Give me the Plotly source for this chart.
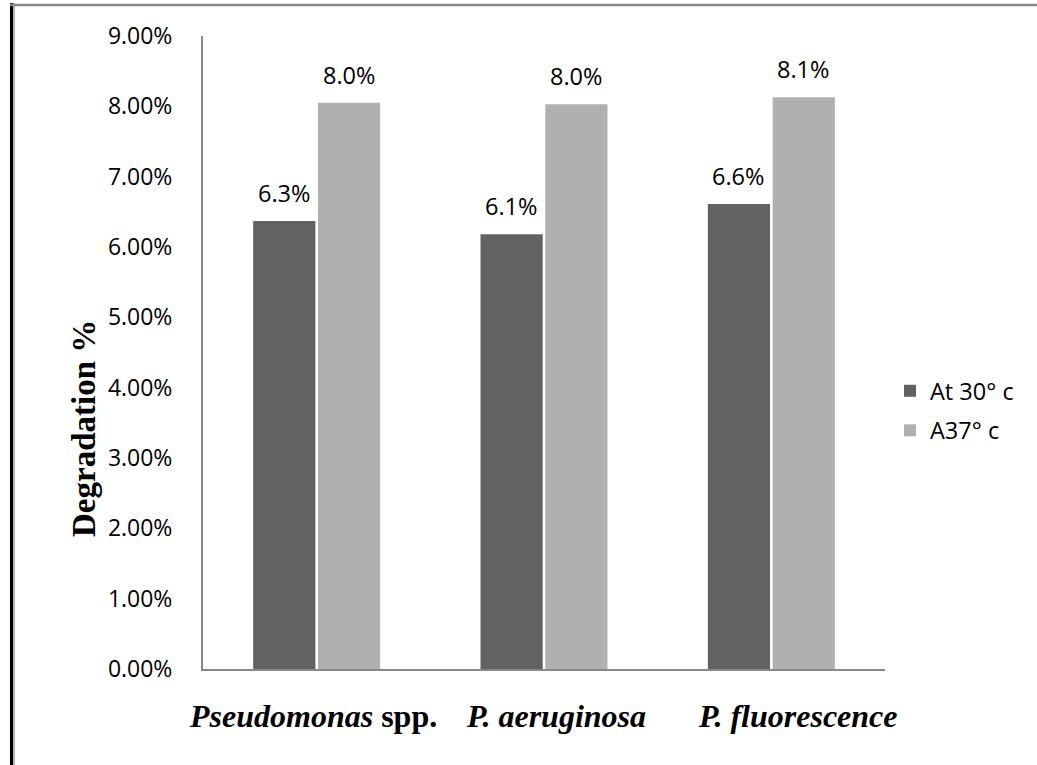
import plotly.graph_objects as go

categories = ["Pseudomonas spp.", "P. aeruginosa", "P. fluorescence"]
category_html = ["<b><i>Pseudomonas</i></b><b> spp.</b>", "<b><i>P. aeruginosa</i></b>", "<b><i>P. fluorescence</i></b>"]
series_names = ["At 30° c", "A37° c"]
at30 = [0.0637, 0.0618, 0.0661]
at37 = [0.0805, 0.0803, 0.0813]
labels30 = ["6.3%", "6.1%", "6.6%"]
labels37 = ["8.0%", "8.0%", "8.1%"]
y_ticks = [0, 0.01, 0.02, 0.03, 0.04, 0.05, 0.06, 0.07, 0.08, 0.09]

W, H = 1037, 765
L, R, T, B = 203, 152, 36, 96
pw, ph = W - L - R, H - T - B

def px_x(p):
    return (p - L) / pw

def px_y(p):
    return (H - B - p) / ph

fig = go.Figure()
fig.add_trace(go.Bar(x=categories, y=at30, name=series_names[0],
                     marker=dict(color="#626262", line=dict(width=0)),
                     legendgroup="a"))
fig.add_trace(go.Bar(x=categories, y=at37, name=series_names[1],
                     marker=dict(color="#b0b0b0", line=dict(width=0)),
                     legendgroup="b"))

lab_font = dict(family="Open Sans", size=23.5, color="#000")
annotations = []
for cat, v, t in zip(categories, at30, labels30):
    annotations.append(dict(x=cat, y=v, xref="x", yref="y", text=t, showarrow=False,
                            xshift=-33, yshift=28, yanchor="middle", font=lab_font))
for cat, v, t in zip(categories, at37, labels37):
    annotations.append(dict(x=cat, y=v, xref="x", yref="y", text=t, showarrow=False,
                            xshift=32, yshift=28, yanchor="middle", font=lab_font))

label_shifts = [-4, 12, 26]
for cat, txt, s in zip(categories, category_html, label_shifts):
    annotations.append(dict(x=cat, y=px_y(716), xref="x", yref="paper", text=txt,
                            showarrow=False, xshift=s, yanchor="middle",
                            font=dict(family="Liberation Serif", size=32, color="#000")))

annotations.append(dict(x=px_x(84), y=px_y(428), xref="paper", yref="paper",
                        text="<b>Degradation %</b>", textangle=-90, showarrow=False,
                        xanchor="center", yanchor="middle",
                        font=dict(family="Liberation Serif", size=33, color="#000")))

shapes = [
    dict(type="line", xref="paper", yref="paper", x0=px_x(11.5), x1=px_x(11.5),
         y0=px_y(3), y1=px_y(770), line=dict(color="#000", width=3)),
    dict(type="line", xref="paper", yref="paper", x0=px_x(14), x1=px_x(14),
         y0=px_y(3), y1=px_y(770), line=dict(color="#9a9a9a", width=1.5)),
    dict(type="line", xref="paper", yref="paper", x0=px_x(10), x1=px_x(1040),
         y0=px_y(5), y1=px_y(5), line=dict(color="#888888", width=2.5)),
]

fig.update_layout(
    width=W, height=H,
    margin=dict(l=L, r=R, t=T, b=B, autoexpand=False),
    paper_bgcolor="white", plot_bgcolor="white",
    barmode="group", bargap=0.43, bargroupgap=0.04,
    showlegend=True,
    legend=dict(x=px_x(890), y=px_y(411), xanchor="left", yanchor="middle",
                font=lab_font,
                traceorder="grouped", tracegroupgap=6, itemwidth=30,
                bgcolor="rgba(0,0,0,0)"),
    annotations=annotations,
    shapes=shapes,
    xaxis=dict(range=[-0.5, 2.5], autorange=False, showticklabels=False, ticks="",
               showgrid=False, zeroline=False,
               showline=True, linecolor="#888888", linewidth=2),
    yaxis=dict(range=[0, 0.09], autorange=False, tickvals=y_ticks, tickformat=".2%",
               showgrid=False, zeroline=False, showline=True, linecolor="#888888",
               linewidth=2, ticks="", ticklabelstandoff=24,
               tickfont=dict(family="Open Sans", size=23, color="#000")),
)

fig.write_html("out.html", config={"displayModeBar": False},
               post_script="document.body.style.margin='0';document.body.style.padding='0';")
